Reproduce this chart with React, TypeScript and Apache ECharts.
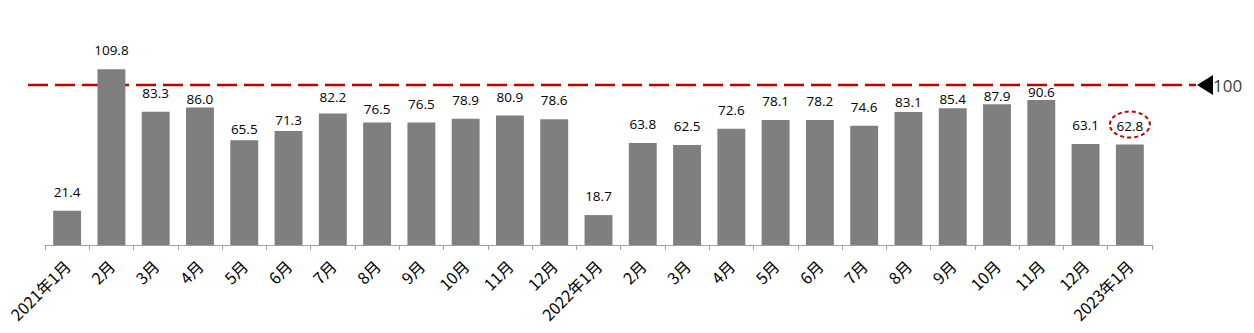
import React, { useEffect, useRef } from "react";
import * as echarts from "echarts";

const categories = [
  "2021年1月", "2月", "3月", "4月", "5月", "6月", "7月", "8月", "9月", "10月", "11月", "12月",
  "2022年1月", "2月", "3月", "4月", "5月", "6月", "7月", "8月", "9月", "10月", "11月", "12月",
  "2023年1月",
];
const values = [
  21.4, 109.8, 83.3, 86.0, 65.5, 71.3, 82.2, 76.5, 76.5, 78.9, 80.9, 78.6,
  18.7, 63.8, 62.5, 72.6, 78.1, 78.2, 74.6, 83.1, 85.4, 87.9, 90.6, 63.1,
  62.8,
];
const referenceValue = 100;
const referenceLabel = "100";
const highlightIndex = 24;

const CJK = "'Noto Sans CJK SC', 'Noto Sans', sans-serif";
const NUM = "'Open Sans', 'Noto Sans', sans-serif";

// label nudges (downwards, px) used in the original to keep labels clear of the reference line
const labelNudge: Record<number, number> = { 3: 11, 4: 8, 5: 8.5, 6: 2.5, 7: 5.5, 19: 9, 20: 9.5, 21: 11, 22: 11 };

export default function App() {
  const ref = useRef<HTMLDivElement>(null);
  useEffect(() => {
    if (!ref.current) return;
    const chart = echarts.init(ref.current, undefined, { renderer: "svg" });
    const seriesData = values.map((v, i) =>
      labelNudge[i] ? { value: v, label: { offset: [0, labelNudge[i]] } } : v
    );
    chart.setOption({
      animation: false,
      grid: { left: 45, right: 102, top: 53, bottom: 88 },
      xAxis: {
        type: "category",
        data: categories,
        axisLine: { lineStyle: { color: "#A0A0A0", width: 1 } },
        axisTick: { show: true, length: 5, lineStyle: { color: "#A0A0A0" } },
        axisLabel: {
          rotate: 45,
          interval: 0,
          margin: 18,
          color: "#000",
          fontSize: 16,
          fontFamily: CJK,
        },
      },
      yAxis: {
        type: "value",
        min: 0,
        max: 120,
        show: false,
        splitLine: { show: false },
      },
      series: [
        {
          type: "bar",
          data: seriesData,
          barCategoryGap: "37%",
          itemStyle: { color: "#7F7F7F" },
          z: 5,
          label: {
            show: true,
            position: "top",
            distance: 12,
            color: "#000",
            fontSize: 13.5,
            fontFamily: NUM,
            formatter: (p: any) => Number(p.value).toFixed(1),
          },
        },
      ],
    });

    const yRef = chart.convertToPixel({ yAxisIndex: 0 }, referenceValue) as number;
    const hx = chart.convertToPixel({ xAxisIndex: 0 }, highlightIndex) as number;
    const hy = chart.convertToPixel({ yAxisIndex: 0 }, values[highlightIndex]) as number;

    chart.setOption({
      graphic: [
        {
          type: "line",
          z: -10,
          shape: { x1: 28, y1: yRef, x2: 1196, y2: yRef },
          style: { stroke: "#C00000", lineWidth: 2.5, lineDash: [20, 7] },
        },
        {
          type: "polygon",
          z: 10,
          shape: { points: [[1197, yRef], [1213, yRef - 10], [1213, yRef + 10]] },
          style: { fill: "#000" },
        },
        {
          type: "text",
          z: 10,
          x: 1213,
          y: yRef,
          style: {
            text: referenceLabel,
            fill: "#404040",
            font: `17px ${NUM}`,
            verticalAlign: "middle",
            align: "left",
          },
        },
        {
          type: "ellipse",
          z: 10,
          shape: { cx: hx, cy: hy - 20, rx: 20, ry: 13 },
          style: { fill: "none", stroke: "#C00000", lineWidth: 2, lineDash: [4, 3] },
        },
      ],
    });

    return () => chart.dispose();
  }, []);
  return (
    <div
      ref={ref}
      style={{ position: "fixed", left: 0, top: 0, width: 1254, height: 333, background: "#fff" }}
    />
  );
}
